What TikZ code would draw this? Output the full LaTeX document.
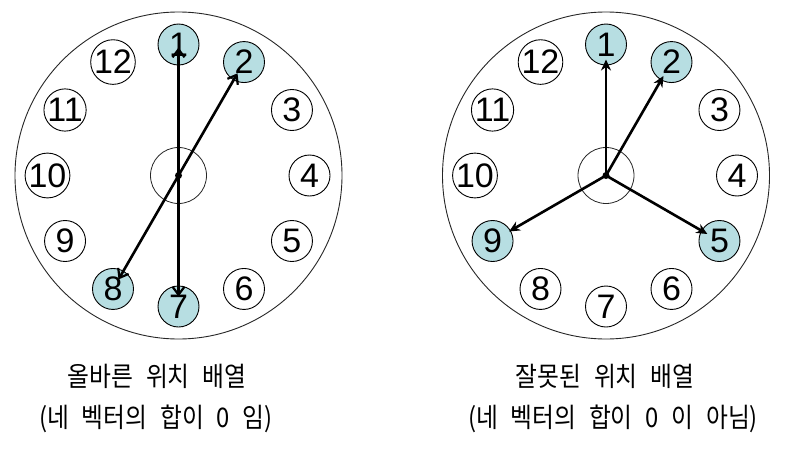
\documentclass[tikz,border=0pt]{standalone}
\usepackage{fontspec}
\setmainfont{Liberation Sans}
\newfontfamily\kr[FakeStretch=0.88,WordSpace=2.4]{Noto Sans CJK KR}
\usetikzlibrary{arrows.meta,calc}
\definecolor{slot}{RGB}{183,222,226}
\begin{document}
\begin{tikzpicture}[x=1pt,y=-1pt,
  outer/.style={draw=black!85,line width=0.9pt},
  hub/.style={draw=black!85,line width=0.8pt},
  num/.style={circle,draw=black,line width=0.9pt,minimum size=41pt,inner sep=0pt,
    font=\fontsize{34}{34}\selectfont},
  sel/.style={num,fill=slot},
  vecA/.style={line width=2.6pt,-{Straight Barb[length=8pt,width=12pt,line width=2.2pt]}},
  vecB/.style={line width=2.6pt,-{Stealth[length=11pt,width=10pt]}},
  lbl/.style={font=\kr\fontsize{27}{27}\selectfont,inner sep=0pt}]
\useasboundingbox (0,0) rectangle (793,450);
% ---------- left clock ----------
\coordinate (L) at (178.5,175.5);
\draw[outer] (L) circle[radius=163.5];
\draw[hub] (L) circle[radius=28];
\foreach \k in {1,...,12}{
  \pgfmathsetmacro\ang{90-30*(\k-1)}
  \ifnum\k=1 \def\st{sel}\else\ifnum\k=2 \def\st{sel}\else\ifnum\k=7 \def\st{sel}\else\ifnum\k=8 \def\st{sel}\else\def\st{num}\fi\fi\fi\fi
  \node[\st] (l\k) at ($(L)+(\ang:131 and -131)$) {\k};
}
\fill (L) circle[radius=3.5];
\draw[vecA,shorten >=3pt] (L) -- (l1.center);
\draw[vecA,shorten >=13pt] (L) -- (l2.center);
\draw[vecA,shorten >=10pt] (L) -- (l7.center);
\draw[vecA,shorten >=11pt] (L) -- (l8.center);
% ---------- right clock ----------
\coordinate (R) at (606,175.5);
\draw[outer] (R) circle[radius=163.5];
\draw[hub] (R) circle[radius=28];
\foreach \k in {1,...,12}{
  \pgfmathsetmacro\ang{90-30*(\k-1)}
  \ifnum\k=1 \def\st{sel}\else\ifnum\k=2 \def\st{sel}\else\ifnum\k=5 \def\st{sel}\else\ifnum\k=9 \def\st{sel}\else\def\st{num}\fi\fi\fi\fi
  \node[\st] (r\k) at ($(R)+(\ang:131 and -131)$) {\k};
}
\fill (R) circle[radius=3.5];
\draw[vecB,shorten >=15pt] (R) -- (r1.center);
\draw[vecB,shorten >=16pt] (R) -- (r2.center);
\draw[vecB,shorten >=14pt] (R) -- (r5.center);
\draw[vecB,shorten >=19pt] (R) -- (r9.center);
% ---------- captions ----------
\node[lbl] (t1) at (157,376) {올바른 위치 배열};
\node[lbl] (t2) at (156,419) {(네 벡터의 합이 0 임)};
\node[lbl] (t3) at (605,376) {잘못된 위치 배열};
\node[lbl] (t4) at (613,419) {(네 벡터의 합이 0 이 아님)};
\end{tikzpicture}
\end{document}
